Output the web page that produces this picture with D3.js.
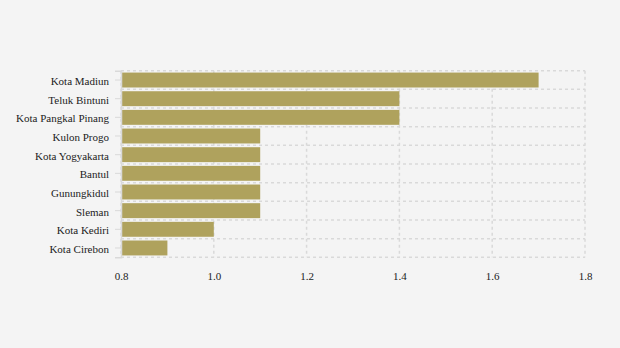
<!DOCTYPE html>
<html>
<head>
<meta charset="utf-8">
<script src="https://cdn.jsdelivr.net/npm/d3@7/dist/d3.min.js"></script>
<style>
  html, body { margin: 0; padding: 0; background: #f4f4f4; }
  svg { display: block; }
  text { font-family: "Liberation Serif", "Times New Roman", serif; }
</style>
</head>
<body>
<svg id="chart" width="620" height="348"></svg>
<script>
const regions = ["Kota Madiun", "Teluk Bintuni", "Kota Pangkal Pinang", "Kulon Progo",
  "Kota Yogyakarta", "Bantul", "Gunungkidul", "Sleman", "Kota Kediri", "Kota Cirebon"];
const values = [1.7, 1.4, 1.4, 1.1, 1.1, 1.1, 1.1, 1.1, 1.0, 0.9];
const xTicks = [0.8, 1.0, 1.2, 1.4, 1.6, 1.8];

const svg = d3.select("#chart");
const margin = { left: 121, right: 35, top: 70.7, bottom: 90.7 };
const W = 620 - margin.left - margin.right;
const H = 348 - margin.top - margin.bottom;

const g = svg.append("g").attr("transform", `translate(${margin.left},${margin.top})`);

const x = d3.scaleLinear().domain([0.8, 1.8]).range([0, W]);
const y = d3.scaleBand().domain(regions).range([0, H]).paddingInner(0.2).paddingOuter(0.1);
const step = y.step();

const gridColor = "#d9d9d9";

// vertical grid
g.selectAll(".vgrid").data(xTicks).join("line")
  .attr("x1", d => x(d)).attr("x2", d => x(d))
  .attr("y1", 0).attr("y2", H)
  .attr("stroke", gridColor).attr("stroke-width", 1.5).attr("stroke-dasharray", "3,3");

// horizontal grid at band boundaries
g.selectAll(".hgrid").data(d3.range(regions.length + 1)).join("line")
  .attr("x1", 0).attr("x2", W)
  .attr("y1", i => i * step).attr("y2", i => i * step)
  .attr("stroke", gridColor).attr("stroke-width", 1.5).attr("stroke-dasharray", "3,3");

// bars
g.selectAll(".bar").data(values).join("rect")
  .attr("x", x(0.8))
  .attr("y", (d, i) => y(regions[i]))
  .attr("width", d => x(d) - x(0.8))
  .attr("height", y.bandwidth())
  .attr("fill", "#afa25d");

// y axis
const yAxis = g.append("g").call(d3.axisLeft(y).tickSize(6).tickPadding(6));
yAxis.select(".domain").attr("stroke", "#d9d9d9").attr("stroke-width", 1.5);
yAxis.selectAll(".tick line").attr("stroke", "#d9d9d9");
yAxis.selectAll("text").attr("font-size", 11).attr("fill", "#222").attr("dy", "0.45em")
  .attr("font-family", "'Liberation Serif', 'Times New Roman', serif");

// x axis
const xAxis = g.append("g").attr("transform", `translate(0,${H})`)
  .call(d3.axisBottom(x).tickValues(xTicks).tickFormat(d3.format(".1f")).tickSize(0).tickPadding(15));
xAxis.select(".domain").remove();
xAxis.selectAll("text").attr("font-size", 11).attr("fill", "#222")
  .attr("font-family", "'Liberation Serif', 'Times New Roman', serif");
</script>
</body>
</html>
